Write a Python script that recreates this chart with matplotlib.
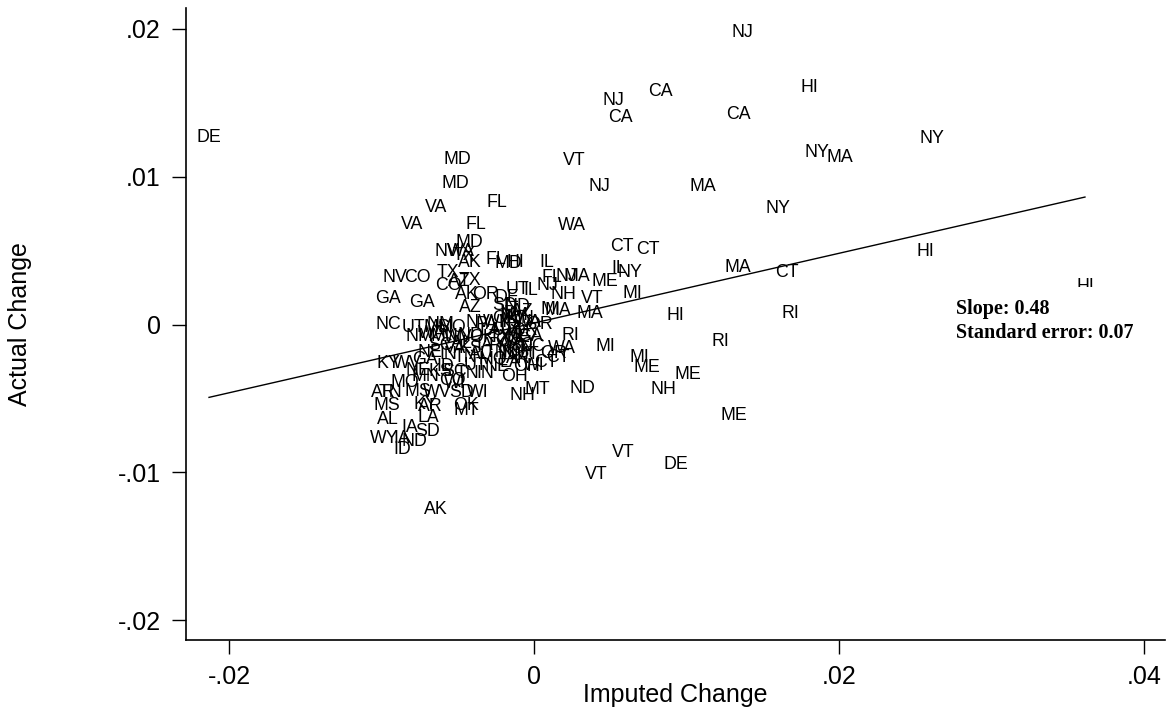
import numpy as np
import matplotlib
matplotlib.use("Agg")
import matplotlib.pyplot as plt

plt.rcParams['font.family'] = ['Liberation Sans', 'DejaVu Sans']

# state labels with (imputed change, actual change)
STATES = [
    "DE", "NJ", "HI", "CA", "NJ", "CA", "CA", "NY", "NY", "MA",
    "VT", "MD", "MD", "NJ", "MA", "FL", "VA", "NY", "VA", "FL",
    "WA", "MD", "CT", "CT", "HI", "NV", "WA", "TX", "AK", "FL",
    "MD", "HI", "IL", "MA", "CT", "NV", "CO", "TX", "CO", "AZ",
    "TX", "FL", "NJ", "MA", "IL", "NY", "ME", "NJ", "GA", "GA",
    "AK", "OR", "UT", "IL", "DE", "NH", "VT", "MI", "AZ", "SD",
    "ND", "MI", "MA", "MA", "HI", "RI", "HI", "NC", "UT", "NM",
    "MO", "RI", "RI", "MI", "WA", "OR", "CT", "MI", "ME", "ME",
    "NH", "ND", "MT", "NH", "OH", "NE", "OH", "WI", "CT", "IN",
    "KY", "WV", "NE", "MO", "WI", "AR", "TN", "MS", "WV", "SD",
    "WI", "MS", "KY", "AR", "OK", "MT", "AL", "LA", "IA", "SD",
    "WY", "IA", "ND", "ID", "AK", "VT", "DE", "VT", "ME", "PA",
    "OR", "OK", "KS", "IA", "MN", "WI", "NE", "CO", "SC", "OR",
    "WA", "UT", "PA", "MO", "IN", "OH", "KY", "TX", "NM", "AZ",
    "ID", "MT", "WY", "AR", "LA", "TN", "GA", "NC", "VA", "NM",
    "WA", "MN", "WV", "ND", "OK", "SC", "VA", "KS", "IA", "NE",
    "IN", "TN", "AL", "MO", "GA", "KS", "SC", "TN", "MN", "CO",
    "ID", "UT", "AL", "LA", "NV", "MS",
]

imputed = [
    -0.02131, 0.01364, 0.01803, 0.00826, 0.00518, 0.00570, 0.01338, 0.02610, 0.01856, 0.02007,
    0.00262, -0.00505, -0.00518, 0.00426, 0.01108, -0.00243, -0.00643, 0.01600, -0.00800, -0.00380,
    0.00249, -0.00426, 0.00577, 0.00748, 0.02564, -0.00570, -0.00479, -0.00459, -0.00420, -0.00249,
    -0.00170, -0.00125, 0.00085, 0.01338, 0.01659, -0.00911, -0.00767, -0.00564, -0.00564, -0.00492,
    -0.00420, 0.00118, 0.00210, 0.00282, 0.00557, 0.00630, 0.00466, 0.00085, -0.00957, -0.00734,
    -0.00439, -0.00321, -0.00111, -0.00020, -0.00177, 0.00190, 0.00380, 0.00643, -0.00420, -0.00190,
    -0.00111, 0.00105, 0.00157, 0.00367, 0.00925, 0.01679, 0.03613, -0.00957, -0.00793, -0.00616,
    -0.00538, 0.00236, 0.01220, 0.00466, 0.00184, 0.00125, 0.00157, 0.00689, 0.00741, 0.01010,
    0.00846, 0.00315, 0.00020, -0.00079, -0.00131, -0.00243, -0.00046, 0.00000, 0.00079, -0.00321,
    -0.00957, -0.00833, -0.00761, -0.00846, -0.00518, -0.00990, -0.00944, -0.00761, -0.00636, -0.00472,
    -0.00367, -0.00964, -0.00715, -0.00682, -0.00446, -0.00446, -0.00957, -0.00695, -0.00813, -0.00695,
    -0.00984, -0.00866, -0.00787, -0.00866, -0.00643, 0.00584, 0.00931, 0.00407, 0.01311, -0.00308,
    0.00039, -0.00190, -0.00157, -0.00125, -0.00092, -0.00144, -0.00105, -0.00170, -0.00079, -0.00059,
    -0.00039, -0.00203, -0.00223, -0.00144, -0.00184, -0.00092, -0.00059, -0.00223, -0.00125, -0.00079,
    -0.00170, -0.00052, -0.00243, -0.00105, -0.00157, -0.00249, -0.00026, -0.00013, -0.00125, -0.00748,
    -0.00669, -0.00584, -0.00498, -0.00420, -0.00341, -0.00616, -0.00518, -0.00420, -0.00321, -0.00682,
    -0.00564, -0.00452, -0.00354, -0.00269, -0.00715, -0.00616, -0.00518, -0.00433, -0.00715, -0.00538,
    -0.00584, -0.00387, -0.00472, -0.00289, -0.00367, -0.00636,
]

actual = [
    0.01269, 0.01973, 0.01601, 0.01574, 0.01519, 0.01404, 0.01418, 0.01262, 0.01161, 0.01127,
    0.01113, 0.01120, 0.00951, 0.00931, 0.00931, 0.00829, 0.00795, 0.00782, 0.00680, 0.00680,
    0.00673, 0.00558, 0.00525, 0.00511, 0.00491, 0.00491, 0.00491, 0.00464, 0.00423, 0.00443,
    0.00416, 0.00423, 0.00423, 0.00389, 0.00355, 0.00321, 0.00321, 0.00355, 0.00267, 0.00288,
    0.00301, 0.00321, 0.00328, 0.00328, 0.00382, 0.00349, 0.00288, 0.00267, 0.00173, 0.00152,
    0.00206, 0.00200, 0.00234, 0.00227, 0.00186, 0.00200, 0.00173, 0.00213, 0.00118, 0.00132,
    0.00125, 0.00105, 0.00098, 0.00078, 0.00058, 0.00078, 0.00254, -0.00003, -0.00017, -0.00003,
    -0.00017, -0.00071, -0.00112, -0.00152, -0.00159, -0.00193, -0.00220, -0.00220, -0.00288, -0.00335,
    -0.00443, -0.00430, -0.00443, -0.00477, -0.00355, -0.00281, -0.00281, -0.00274, -0.00254, -0.00328,
    -0.00261, -0.00261, -0.00308, -0.00389, -0.00396, -0.00457, -0.00457, -0.00450, -0.00457, -0.00457,
    -0.00457, -0.00545, -0.00538, -0.00552, -0.00545, -0.00579, -0.00646, -0.00626, -0.00700, -0.00721,
    -0.00768, -0.00768, -0.00789, -0.00843, -0.01255, -0.00863, -0.00944, -0.01012, -0.00613, -0.00003,
    -0.00003, 0.00044, 0.00017, -0.00024, 0.00044, -0.00058, -0.00091, -0.00105, -0.00139, -0.00037,
    0.00017, -0.00037, -0.00139, -0.00159, -0.00206, -0.00186, -0.00105, -0.00085, 0.00064, 0.00085,
    0.00078, -0.00206, 0.00017, -0.00227, -0.00254, -0.00186, -0.00078, -0.00152, -0.00118, -0.00078,
    -0.00064, -0.00078, -0.00091, -0.00071, -0.00091, -0.00139, -0.00159, -0.00159, -0.00139, -0.00186,
    -0.00206, -0.00220, -0.00206, -0.00240, -0.00240, -0.00321, -0.00321, -0.00328, -0.00355, -0.00376,
    -0.00281, -0.00274, -0.00125, -0.00037, 0.00017, -0.00017,
]

# fitted line as drawn in the picture
FIT_INTERCEPT = 0.0001
FIT_SLOPE = 0.236
SLOPE_TEXT = "Slope: 0.48"
SE_TEXT = "Standard error: 0.07"

X_TICKS = [-0.02, 0.0, 0.02, 0.04]
X_TICK_LABELS = ["-.02", "0", ".02", ".04"]
Y_TICKS = [-0.02, -0.01, 0.0, 0.01, 0.02]
Y_TICK_LABELS = ["-.02", "-.01", "0", ".01", ".02"]

fig = plt.figure(figsize=(11.69, 7.08), dpi=100)
ax = fig.add_axes([0.1591, 0.096, 0.8375, 0.8927])

for lab, x, y in zip(STATES, imputed, actual):
    ax.text(x, y, lab, ha='center', va='center', fontsize=12.8, color='black', zorder=3)

xs = np.array([min(imputed), max(imputed)])
ax.plot(xs, FIT_INTERCEPT + FIT_SLOPE * xs, color='black', lw=1.0, zorder=2)

ax.text(0.0277, 0.0017, SLOPE_TEXT + "\n" + SE_TEXT, ha='left', va='top',
        fontsize=14.5, fontweight='bold', family='Liberation Serif', linespacing=1.25,
        bbox=dict(facecolor='white', edgecolor='none', pad=9), zorder=5)

ax.set_xlim(-0.02282, 0.04138)
ax.set_ylim(-0.02135, 0.02142)
ax.set_xticks(X_TICKS)
ax.set_xticklabels(X_TICK_LABELS)
ax.set_yticks(Y_TICKS)
ax.set_yticklabels(Y_TICK_LABELS)
ax.tick_params(labelsize=18, length=10, width=1, pad=8, colors='black')

for s in ['top', 'right']:
    ax.spines[s].set_visible(False)
for s in ['left', 'bottom']:
    ax.spines[s].set_linewidth(1.2)

ax.set_xlabel("Imputed Change", fontsize=18)
ax.set_ylabel("Actual Change", fontsize=18)
ax.xaxis.set_label_coords(0.5, -0.068)
ax.yaxis.set_label_coords(-0.157, 0.5)

fig.savefig("out.png", dpi=100)
